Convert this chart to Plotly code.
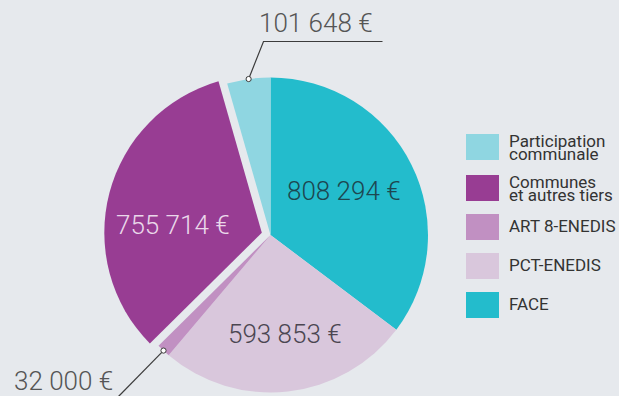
import math
import plotly.graph_objects as go

# Funding sources, clockwise from 12 o'clock
labels = ["FACE", "PCT-ENEDIS", "ART 8-ENEDIS", "Communes et autres tiers", "Participation communale"]
values = [808294, 593853, 32000, 755714, 101648]
colors = ["#23bccc", "#d9c7dc", "#c190c2", "#983d93", "#8fd6e1"]
pulls = [0, 0, 0, 0.057, 0]

# Legend entries (top to bottom) as index into the lists above, with line breaks
legend_order = [4, 3, 2, 1, 0]
legend_text = {
    4: ["Participation", "communale"],
    3: ["Communes", "et autres tiers"],
    2: ["ART 8-ENEDIS"],
    1: ["PCT-ENEDIS"],
    0: ["FACE"],
}

W, H = 619, 404
CX, CY, R = 270.5, 235.0, 157.5
BG = "#e6e9ed"


def fx(x):
    return x / W


def fy(y):
    return 1 - y / H


def euro(v):
    return f"{v:,}".replace(",", " ") + " €"


half = R * (1 + max(pulls))
domain_x = [(CX - half) / W, (CX + half) / W]
domain_y = [1 - (CY + half) / H, 1 - (CY - half) / H]

fig = go.Figure(
    go.Pie(
        labels=labels,
        values=values,
        sort=False,
        direction="clockwise",
        rotation=0,
        pull=pulls,
        marker=dict(colors=colors, line=dict(width=0)),
        textinfo="none",
        hoverinfo="label+value",
        showlegend=False,
        domain=dict(x=domain_x, y=domain_y),
    )
)

# mid-angle of each slice (degrees clockwise from top)
total = sum(values)
mids = []
acc = 0.0
for v in values:
    span = 360.0 * v / total
    mids.append(acc + span / 2)
    acc += span


def rim_point(i):
    a = math.radians(mids[i])
    return CX + R * math.sin(a), CY - R * math.cos(a)


annotations = []
shapes = []

value_font = dict(family="Roboto", size=26, weight=300)

# Values written inside the large slices
inside = {
    0: ((343.7, 190.8), "#1d4750"),
    1: ((285.0, 334.0), "#4b4651"),
    3: ((173.3, 225.0), "#ead8ea"),
}
for i, ((x, y), col) in inside.items():
    annotations.append(dict(
        x=fx(x), y=fy(y), xref="paper", yref="paper",
        text=euro(values[i]), showarrow=False,
        xanchor="center", yanchor="middle",
        font=dict(value_font, color=col),
    ))

# Small slices get a leader line to an outside label
lead_col = "#3c3c3c"
outside = {
    4: ([(263.5, 41.5), (382.5, 41.5)], (316.0, 22.5)),
    2: ([(116.0, 399.0)], (63.5, 381.0)),
}
for i, (pts, (tx, ty)) in outside.items():
    sx, sy = rim_point(i)
    path = f"M {fx(sx)},{fy(sy)}" + "".join(f" L {fx(px)},{fy(py)}" for px, py in pts)
    shapes.append(dict(type="path", path=path, xref="paper", yref="paper",
                       line=dict(color=lead_col, width=1.2), layer="above"))
    shapes.append(dict(type="circle", xref="paper", yref="paper",
                       xsizemode="pixel", ysizemode="pixel",
                       xanchor=fx(sx), yanchor=fy(sy),
                       x0=-2.6, x1=2.6, y0=-2.6, y1=2.6,
                       fillcolor="#ffffff", line=dict(color=lead_col, width=1),
                       layer="above"))
    annotations.append(dict(
        x=fx(tx), y=fy(ty), xref="paper", yref="paper",
        text=euro(values[i]), showarrow=False,
        xanchor="center", yanchor="middle",
        font=dict(value_font, color="#555555"),
    ))

# Legend: swatches and labels
sw_x0, sw_x1 = 466, 499
sw_tops = [134, 175, 214, 253, 292]
sw_h = 26
text_x = 507
legend_font = dict(family="Roboto", size=17, weight=400, color="#333333")
for k, i in enumerate(legend_order):
    top = sw_tops[k]
    shapes.append(dict(type="rect", xref="paper", yref="paper",
                       x0=fx(sw_x0), x1=fx(sw_x1), y0=fy(top + sw_h), y1=fy(top),
                       fillcolor=colors[i], line=dict(width=0), layer="above"))
    lines = legend_text[i]
    if len(lines) == 1:
        ys = [top + sw_h / 2 - 1]
    else:
        ys = [top + 6.5, top + 20]
    for line, y in zip(lines, ys):
        annotations.append(dict(
            x=fx(text_x), y=fy(y), xref="paper", yref="paper",
            text=line, showarrow=False,
            xanchor="left", yanchor="middle",
            font=legend_font,
        ))

fig.update_layout(
    width=W, height=H,
    margin=dict(l=0, r=0, t=0, b=0),
    paper_bgcolor=BG, plot_bgcolor=BG,
    shapes=shapes,
    annotations=annotations,
)

fig.write_html(
    "out.html",
    post_script="document.body.style.margin='0';document.body.style.overflow='hidden';",
)
